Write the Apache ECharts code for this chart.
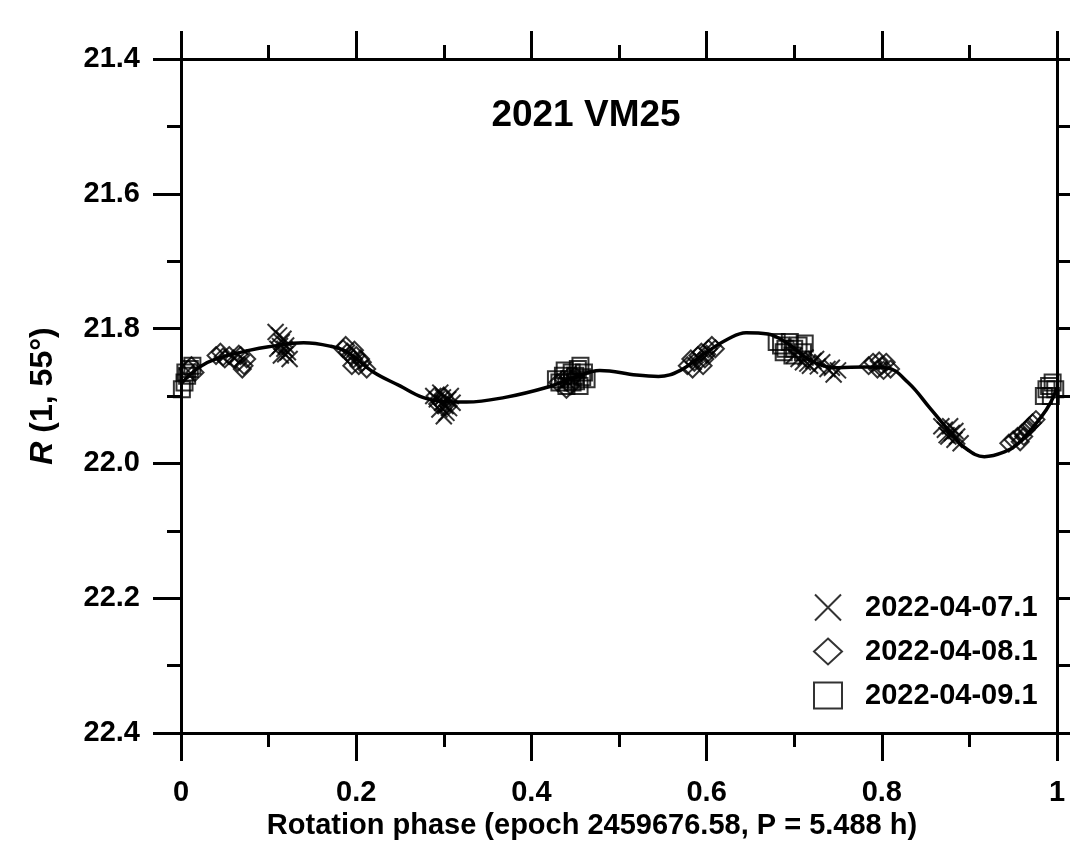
<!DOCTYPE html>
<html>
<head>
<meta charset="utf-8">
<script src="https://cdn.jsdelivr.net/npm/echarts@6/dist/echarts.min.js"></script>
<style>html,body{margin:0;padding:0;background:#fff}#c{width:1070px;height:846px}</style>
</head>
<body>
<div id="c"></div>
<script>
var titleText = '2021 VM25';
var xTitle = 'Rotation phase (epoch 2459676.58, P = 5.488 h)';
var seriesNames = ['2022-04-07.1', '2022-04-08.1', '2022-04-09.1'];

var cross0407 = [
  [0.108,21.805],[0.112,21.81],[0.115,21.82],[0.118,21.83],[0.12,21.825],[0.122,21.835],[0.114,21.84],[0.124,21.845],[0.117,21.815],[0.11,21.83],[0.119,21.838],[0.113,21.826],
  [0.288,21.9],[0.292,21.905],[0.295,21.92],[0.298,21.91],[0.3,21.93],[0.302,21.915],[0.305,21.905],[0.308,21.9],[0.296,21.895],[0.303,21.925],[0.31,21.91],[0.299,21.902],[0.306,21.918],
  [0.7,21.84],[0.705,21.845],[0.71,21.85],[0.713,21.843],[0.718,21.855],[0.722,21.848],[0.727,21.856],[0.732,21.85],[0.738,21.86],[0.743,21.858],[0.75,21.862],[0.745,21.868],[0.715,21.852],[0.725,21.845],
  [0.868,21.945],[0.872,21.95],[0.876,21.96],[0.88,21.955],[0.883,21.965],[0.886,21.96],[0.89,21.97],[0.878,21.945],[0.874,21.958],[0.884,21.952]
];
var diamond0408 = [
  [0.008,21.86],[0.012,21.855],[0.016,21.865],
  [0.04,21.84],[0.045,21.835],[0.05,21.845],[0.055,21.84],[0.06,21.845],[0.065,21.85],[0.068,21.84],[0.072,21.855],[0.075,21.845],[0.07,21.86],[0.048,21.842],[0.066,21.838],
  [0.185,21.83],[0.19,21.835],[0.193,21.84],[0.197,21.845],[0.2,21.84],[0.203,21.855],[0.207,21.85],[0.212,21.86],[0.195,21.855],[0.188,21.825],[0.198,21.832],[0.205,21.845],
  [0.29,21.9],[0.297,21.91],[0.305,21.915],[0.3,21.9],[0.293,21.912],
  [0.43,21.88],[0.436,21.875],[0.44,21.89],[0.445,21.885],[0.45,21.87],[0.442,21.872],
  [0.578,21.855],[0.582,21.845],[0.586,21.85],[0.59,21.84],[0.594,21.835],[0.598,21.845],[0.602,21.83],[0.606,21.825],[0.61,21.83],[0.584,21.86],[0.596,21.855],[0.6,21.838],[0.592,21.848],
  [0.785,21.855],[0.79,21.85],[0.795,21.86],[0.8,21.855],[0.805,21.85],[0.81,21.86],[0.797,21.848],[0.802,21.862],
  [0.945,21.97],[0.95,21.965],[0.955,21.96],[0.96,21.955],[0.965,21.95],[0.968,21.945],[0.972,21.94],[0.976,21.935],[0.958,21.968],[0.962,21.96]
];
var square0409 = [
  [0.001,21.89],[0.004,21.88],[0.007,21.87],[0.01,21.86],[0.013,21.855],[0.005,21.865],
  [0.428,21.875],[0.432,21.88],[0.436,21.87],[0.44,21.885],[0.443,21.875],[0.446,21.865],[0.45,21.87],[0.453,21.86],[0.456,21.855],[0.46,21.865],[0.463,21.875],[0.447,21.88],[0.455,21.885],[0.438,21.862],[0.451,21.878],[0.458,21.872],
  [0.68,21.82],[0.685,21.825],[0.69,21.83],[0.695,21.82],[0.7,21.83],[0.705,21.825],[0.71,21.835],[0.712,21.822],[0.698,21.84],[0.688,21.835],
  [0.985,21.9],[0.988,21.89],[0.991,21.885],[0.995,21.88],[0.998,21.89],[0.993,21.9]
];
var fitCurve = [
  [0,21.882],[0.02,21.858],[0.04,21.845],[0.079,21.832],[0.1,21.827],[0.14,21.821],[0.17,21.826],[0.19,21.835],[0.219,21.864],[0.25,21.885],
  [0.276,21.902],[0.3,21.908],[0.326,21.909],[0.37,21.902],[0.418,21.887],[0.45,21.872],[0.478,21.862],[0.52,21.869],[0.545,21.871],[0.57,21.862],
  [0.6,21.835],[0.625,21.815],[0.645,21.806],[0.67,21.808],[0.69,21.82],[0.72,21.848],[0.75,21.858],[0.78,21.857],[0.805,21.858],[0.83,21.88],
  [0.855,21.918],[0.879,21.955],[0.894,21.976],[0.917,21.99],[0.94,21.983],[0.956,21.97],[0.982,21.931],[0.993,21.909],[1.0,21.888]
];

var FONT = '"Liberation Sans", Arial, sans-serif';
var axisLineStyle = {color:'#000', width:3};
function xAx(pos, showLabel) {
  return {
    type:'value', position:pos, min:0, max:1, interval:0.2,
    axisLine:{show:true, onZero:false, lineStyle:axisLineStyle},
    axisTick:{show:true, inside:false, length:28, lineStyle:{color:'#000', width:3}},
    minorTick:{show:true, splitNumber:2, length:14, lineStyle:{color:'#000', width:3}},
    splitLine:{show:false}, minorSplitLine:{show:false},
    axisLabel:{show:showLabel, margin:45, color:'#000', fontFamily:FONT, fontWeight:'bold', fontSize:29,
      formatter:function(v){return String(Math.round(v*10)/10);}},
    name: showLabel ? xTitle : '', nameLocation:'middle', nameGap:66,
    nameTextStyle:{color:'#000', fontFamily:FONT, fontWeight:'bold', fontSize:29, padding:[0,54,0,0]}
  };
}
function yAx(pos, showLabel) {
  return {
    type:'value', position:pos, min:21.4, max:22.4, interval:0.2, inverse:true,
    axisLine:{show:true, onZero:false, lineStyle:axisLineStyle},
    axisTick:{show:true, inside:false, length:28, lineStyle:{color:'#000', width:3}},
    minorTick:{show:true, splitNumber:2, length:14, lineStyle:{color:'#000', width:3}},
    splitLine:{show:false}, minorSplitLine:{show:false},
    axisLabel:{show:showLabel, margin:41, color:'#000', fontFamily:FONT, fontWeight:'bold', fontSize:29,
      formatter:function(v){return v.toFixed(1);}},
    name: showLabel ? '{i|R} (1, 55°)' : '', nameLocation:'middle', nameGap:122, nameRotate:90,
    nameTextStyle:{color:'#000', fontFamily:FONT, fontWeight:'bold', fontSize:32,
      rich:{i:{fontStyle:'italic', fontWeight:'bold', fontFamily:FONT, fontSize:32, color:'#000'}}}
  };
}
var markerStyle = {color:'rgba(0,0,0,0)', borderColor:'#000', borderWidth:2};
var chart = echarts.init(document.getElementById('c'), null, {renderer:'canvas'});
chart.setOption({
  animation:false,
  backgroundColor:'#fff',
  title:{text:titleText, left:581, top:92, textAlign:'center',
    textStyle:{color:'#000', fontFamily:FONT, fontWeight:'bold', fontSize:37}},
  grid:{left:181, right:13, top:59, bottom:113},
  xAxis:[xAx('bottom', true), xAx('top', false)],
  yAxis:[yAx('left', true), yAx('right', false)],
  legend:{orient:'vertical', left:808, top:588, itemWidth:28, itemHeight:26, itemGap:15,
    data:seriesNames,
    textStyle:{color:'#000', fontFamily:FONT, fontWeight:'bold', fontSize:29, padding:[0,0,0,18]}},
  series:[
    {name:'fit', type:'line', data:fitCurve, smooth:0.4, symbol:'none', silent:true,
      lineStyle:{color:'#000', width:3.5}, z:1},
    {name:seriesNames[0], type:'scatter', data:cross0407, symbol:'path://M0,0L10,10M10,0L0,10', symbolSize:16,
      itemStyle:markerStyle, z:2},
    {name:seriesNames[1], type:'scatter', data:diamond0408, symbol:'diamond', symbolSize:17,
      itemStyle:markerStyle, z:2},
    {name:seriesNames[2], type:'scatter', data:square0409, symbol:'rect', symbolSize:16,
      itemStyle:markerStyle, z:2}
  ]
});
</script>
</body>
</html>
